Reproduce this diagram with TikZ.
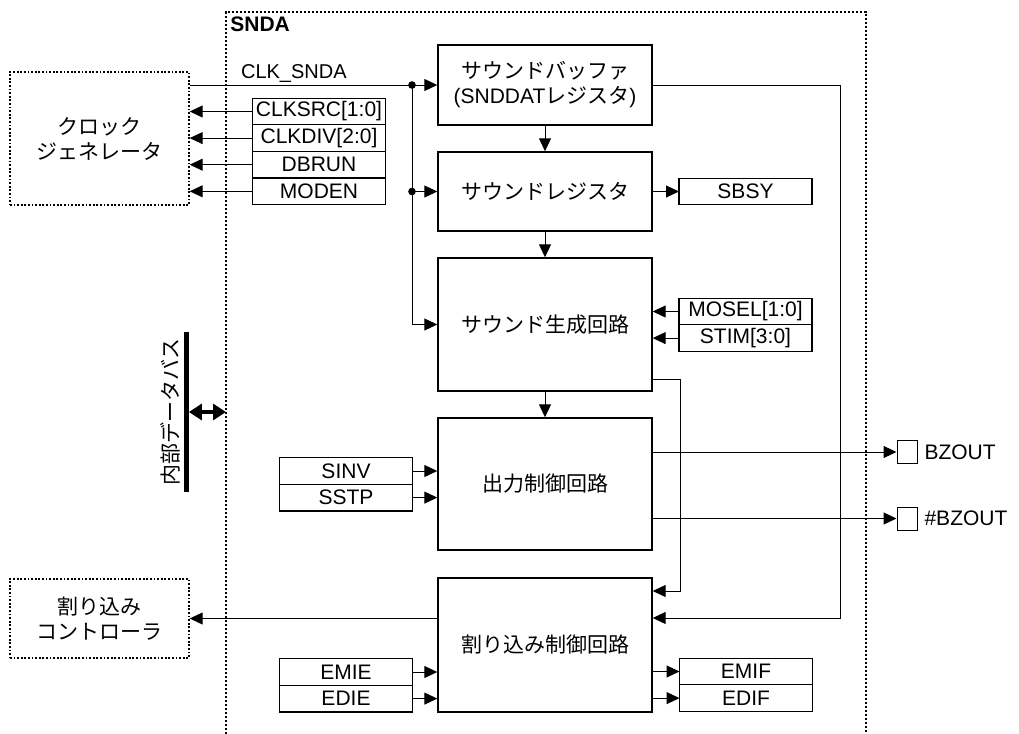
\documentclass[tikz,border=0pt]{standalone}
\usepackage{fontspec}
\setmainfont{Liberation Sans}
\newfontfamily\jp{Noto Sans CJK JP}
\usetikzlibrary{arrows.meta, positioning}
\tikzset{
  blk/.style={draw, line width=0.7pt, minimum width=107pt, align=center, inner sep=0pt},
  ext/.style={draw, line width=0.7pt, dash pattern=on 0.9pt off 0.9pt, minimum width=89.5pt, align=center, inner sep=0pt},
  reg/.style={draw, line width=0.6pt, minimum width=66.5pt, minimum height=13.3pt, inner sep=0pt, outer sep=0pt},
  padbox/.style={draw, line width=0.5pt, minimum width=10pt, minimum height=11.5pt, inner sep=0pt},
  sig/.style={line width=0.5pt, -{Triangle[length=6.5pt, width=6pt]}},
  jn/.style={circle, fill, inner sep=0pt, minimum size=3.8pt},
}

\begin{document}
\begin{tikzpicture}[x=0.5pt, y=-0.5pt, every node/.style={font=\fontsize{10.5}{12.5}\selectfont}]
\useasboundingbox (0,0) rectangle (1019,734);
% SNDA frame
\draw[line width=1.4pt, dash pattern=on 1.1pt off 0.9pt] (226,734) -- (226,12) -- (866,12) -- (866,734);
\node[anchor=north west, inner sep=1pt, font=\fontsize{10.5}{12.5}\selectfont\bfseries] (snda) at (228,14) {SNDA};
% column references
\coordinate (trunk) at (412,0);
\coordinate (colA) at (680,0);
\coordinate (colB) at (840,0);
\coordinate (frameL) at (226,0);
% main blocks
\node[blk, minimum height=40pt] (buf) at (545,85) {{\jp サウンドバッファ}\\(SNDDAT{\jp レジスタ})};
\node[blk, minimum height=39.5pt] (sreg) at (545,191.5) {\jp サウンドレジスタ};
\node[blk, minimum height=66.5pt] (gen) at (545,324.5) {\jp サウンド生成回路};
\node[blk, minimum height=66pt] (outc) at (545,484) {\jp 出力制御回路};
\node[blk, minimum height=67pt] (intc) at (545,645) {\jp 割り込み制御回路};
% outside blocks
\node[ext, minimum height=66.5pt] (clkgen) at (99.5,138.5) {{\jp クロック}\\{\jp ジェネレータ}};
\node[ext, minimum height=39.5pt] (intctl) at (99.5,618.5) {{\jp 割り込み}\\{\jp コントローラ}};
% registers
\node[reg] (csrc) at (319,111.5) {CLKSRC[1:0]};
\node[reg, below=0pt of csrc] (cdiv) {CLKDIV[2:0]};
\node[reg, below=0pt of cdiv] (dbrun) {DBRUN};
\node[reg, below=0pt of dbrun] (moden) {MODEN};
\node[reg] (sbsy) at (745.5,191.5) {SBSY};
\node[reg] (mosel) at (745.5,311.5) {MOSEL[1:0]};
\node[reg, below=0pt of mosel] (stim) {STIM[3:0]};
\node[reg] (sinv) at (346,471) {SINV};
\node[reg, below=0pt of sinv] (sstp) {SSTP};
\node[reg] (emie) at (346,672) {EMIE};
\node[reg, below=0pt of emie] (edie) {EDIE};
\node[reg] (emif) at (746,671.5) {EMIF};
\node[reg, below=0pt of emif] (edif) {EDIF};
% pins
\node[padbox] (bz) at (907,452) {};
\node[padbox] (nbz) at (907,518.5) {};
\node[anchor=west] (bzl) at (bz.east) {BZOUT};
\node[anchor=west] (nbzl) at (nbz.east) {\#BZOUT};
% data bus
\node[fill, minimum width=2.5pt, minimum height=80pt, inner sep=0pt] (bus) at (186,412) {};
\node[rotate=90] (busl) at (170,412) {\jp 内部データバス};
\draw[line width=1.6pt, {Triangle[length=6.5pt, width=8pt]}-{Triangle[length=6.5pt, width=8pt]}] (bus.east) -- (bus.east -| frameL);
% clock
\draw[sig] (buf.west -| clkgen.east) -- (buf.west);
\node[anchor=base west, font=\fontsize{10}{12}\selectfont] (clkl) at (234,78) {CLK\_SNDA};
\draw[sig] (buf.west -| trunk) |- (gen.west);
\draw[sig] (sreg.west -| trunk) -- (sreg.west);
\node[jn] (j1) at (buf.west -| trunk) {};
\node[jn] (j2) at (sreg.west -| trunk) {};
\foreach \r in {csrc,cdiv,dbrun,moden} \draw[sig] (\r.west) -- (\r.west -| clkgen.east);
% data path
\draw[sig] (buf.south) -- (sreg.north);
\draw[sig] (sreg.south) -- (gen.north);
\draw[sig] (gen.south) -- (outc.north);
\draw[sig] (sreg.east) -- (sbsy.west);
\foreach \r in {mosel,stim} \draw[sig] (\r.west) -- (\r.west -| gen.east);
\foreach \r in {sinv,sstp} \draw[sig] (\r.east) -- (\r.east -| outc.west);
\foreach \r in {emie,edie} \draw[sig] (\r.east) -- (\r.east -| intc.west);
\foreach \r in {emif,edif} \draw[sig] (\r.west -| intc.east) -- (\r.west);
\draw[sig] (bz.west -| outc.east) -- (bz.west);
\draw[sig] (nbz.west -| outc.east) -- (nbz.west);
\draw[sig] (intctl.east -| intc.west) -- (intctl.east);
% interrupt sources
\coordinate (gtap) at ([yshift=-27.25pt]gen.east);
\coordinate (itapA) at ([yshift=27pt]intc.east);
\coordinate (itapB) at ([yshift=13.5pt]intc.east);
\draw[sig] (gtap) -| (colA |- itapA) -- (itapA);
\draw[sig] (buf.east) -| (colB |- itapB) -- (itapB);
\end{tikzpicture}
\end{document}
